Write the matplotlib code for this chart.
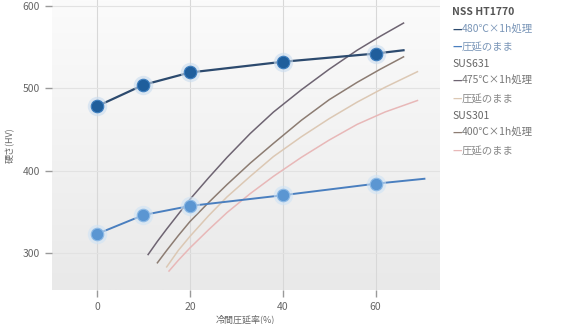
import numpy as np
import matplotlib.pyplot as plt
from matplotlib.colors import LinearSegmentedColormap

plt.rcParams['font.family'] = ['Noto Sans CJK JP', 'DejaVu Sans']

# --- データ ---
rolling = [0, 10, 20, 40, 60]
nss_aged = [478, 504, 519, 532, 542]
nss_rolled = [323, 346, 357, 370, 384]
nss_aged_end = (66, 546)
nss_rolled_end = (70.5, 390)

sus631_aged_x = [11, 13, 15, 17.5, 20, 24, 28, 33, 38, 44, 50, 56, 61, 66]
sus631_aged_y = [298, 314, 329, 347, 365, 391, 416, 445, 471, 498, 523, 546, 563, 579]
sus301_aged_x = [13, 15, 17.5, 20, 24, 28, 33, 38, 44, 50, 56, 61, 66]
sus301_aged_y = [288, 303, 321, 338, 361, 383, 409, 433, 461, 486, 507, 523, 538]
sus631_rolled_x = [15, 17.5, 20, 24, 28, 33, 38, 44, 50, 56, 62, 69]
sus631_rolled_y = [283, 303, 320, 345, 368, 393, 417, 441, 463, 483, 501, 520]
sus301_rolled_x = [15.5, 17.5, 20, 24, 28, 33, 38, 44, 50, 56, 62, 69]
sus301_rolled_y = [278, 291, 306, 328, 349, 372, 393, 416, 437, 456, 471, 485]

xticks = [0, 20, 40, 60]
yticks = [300, 400, 500, 600]

fig = plt.figure(figsize=(5.84, 3.24), dpi=100)
ax = fig.add_axes([0.089, 0.105, 0.664, 0.895])

# 背景グラデーション
grad = np.linspace(0, 1, 256).reshape(-1, 1)
bg = LinearSegmentedColormap.from_list('bg', ['#e9e9e9', '#fbfbfb'])
ax.imshow(grad, extent=[-9.7, 73.8, 255, 607], aspect='auto',
          cmap=bg, origin='lower', zorder=0)

for xt in xticks:
    ax.axvline(xt, color='#d8d8d8', lw=0.8, zorder=1)
for yt in yticks:
    ax.axhline(yt, color='#e2e2e2', lw=0.8, zorder=1)

# SUS 系
ax.plot(sus631_rolled_x, sus631_rolled_y, color='#dcc8b4', lw=1.1, zorder=2)
ax.plot(sus301_rolled_x, sus301_rolled_y, color='#e8b8b8', lw=1.1, zorder=2)
ax.plot(sus301_aged_x, sus301_aged_y, color='#8c7c72', lw=1.1, zorder=2)
ax.plot(sus631_aged_x, sus631_aged_y, color='#6e6472', lw=1.1, zorder=2)

# NSS HT1770
ax.plot(rolling + [nss_rolled_end[0]], nss_rolled + [nss_rolled_end[1]],
        color='#4a7fbf', lw=1.4, zorder=3)
ax.plot(rolling, nss_rolled, 'o', ms=14, color='#cfe3f5', alpha=0.6, mec='none', zorder=4)
ax.plot(rolling, nss_rolled, 'o', ms=9, color='#5b96d2', mec='#8fbbe6', mew=0.8, zorder=5)

ax.plot(rolling + [nss_aged_end[0]], nss_aged + [nss_aged_end[1]],
        color='#2c4a6e', lw=1.6, zorder=3)
ax.plot(rolling, nss_aged, 'o', ms=14, color='#c9dcef', alpha=0.6, mec='none', zorder=4)
ax.plot(rolling, nss_aged, 'o', ms=9, color='#1f5e9c', mec='#3f7fbf', mew=0.8, zorder=5)

ax.set_xlim(-9.7, 73.8)
ax.set_ylim(255, 607)
ax.set_xticks(xticks)
ax.set_yticks(yticks)
for s in ax.spines.values():
    s.set_visible(False)
ax.tick_params(colors='#9a9a9a', labelcolor='#666666', labelsize=7.5, length=5, width=1)
ax.set_xlabel('冷間圧延率(%)', fontsize=6.5, color='#666666', labelpad=2)
ax.set_ylabel('硬さ(HV)', fontsize=6.5, color='#666666', labelpad=6)

# 凡例
legend_rows = [
    ('NSS HT1770', None, '#555555', True),
    ('480℃×1h処理', '#2c4a6e', '#7a96b8', False),
    ('圧延のまま', '#4a7fbf', '#7a96b8', False),
    ('SUS631', None, '#666666', False),
    ('475℃×1h処理', '#6e6472', '#777777', False),
    ('圧延のまま', '#dcc8b4', '#888888', False),
    ('SUS301', None, '#666666', False),
    ('400℃×1h処理', '#8c7c72', '#777777', False),
    ('圧延のまま', '#e8b8b8', '#888888', False),
]
y0 = 1 - 12 / 324
dy = 17.3 / 324
for i, (label, lc, tc, bold) in enumerate(legend_rows):
    y = y0 - i * dy
    if lc is None:
        fig.text(452 / 584, y, label, fontsize=7.5, color=tc,
                 fontweight='bold' if bold else 'normal', va='center')
    else:
        fig.text(452 / 584, y, '—', fontsize=7.5, color=lc, va='center', fontweight='bold')
        fig.text(462 / 584, y, label, fontsize=7.5, color=tc, va='center')

fig.savefig('out.png', dpi=100, facecolor='white')
